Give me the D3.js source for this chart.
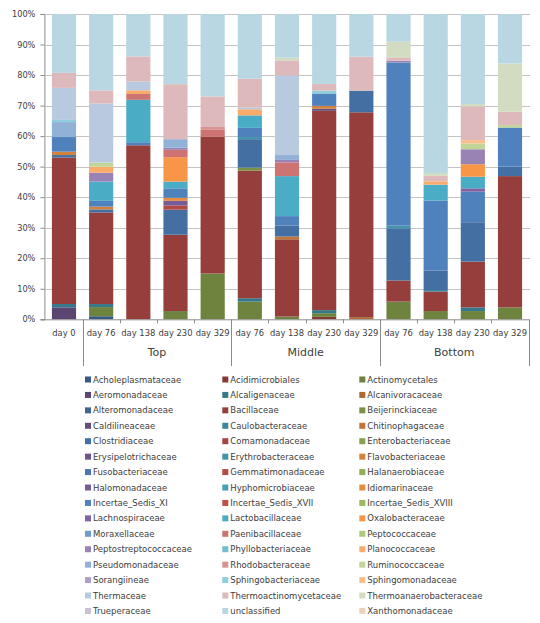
<!DOCTYPE html>
<html><head><meta charset="utf-8">
<script src="https://cdn.jsdelivr.net/npm/d3@7"></script>
<style>body{margin:0;background:#fff}svg{display:block}</style>
</head><body><svg id="c" width="540" height="623"></svg>
<script>
// ---------- data ----------
const categories = ["day 0","day 76","day 138","day 230","day 329","day 76","day 138","day 230","day 329","day 76","day 138","day 230","day 329"];
const categoryGroups = ["","Top","Top","Top","Top","Middle","Middle","Middle","Middle","Bottom","Bottom","Bottom","Bottom"];
const yTicks = [0,10,20,30,40,50,60,70,80,90,100];

const seriesNames = ["Acholeplasmataceae","Acidimicrobiales","Actinomycetales","Aeromonadaceae","Alcaligenaceae","Alcanivoracaceae",
"Alteromonadaceae","Bacillaceae","Beijerinckiaceae","Caldilineaceae","Caulobacteraceae","Chitinophagaceae",
"Clostridiaceae","Comamonadaceae","Enterobacteriaceae","Erysipelotrichaceae","Erythrobacteraceae","Flavobacteriaceae",
"Fusobacteriaceae","Gemmatimonadaceae","Halanaerobiaceae","Halomonadaceae","Hyphomicrobiaceae","Idiomarinaceae",
"Incertae_Sedis_XI","Incertae_Sedis_XVII","Incertae_Sedis_XVIII","Lachnospiraceae","Lactobacillaceae","Oxalobacteraceae",
"Moraxellaceae","Paenibacillaceae","Peptococcaceae","Peptostreptococcaceae","Phyllobacteriaceae","Planococcaceae",
"Pseudomonadaceae","Rhodobacteraceae","Ruminococcaceae","Sorangiineae","Sphingobacteriaceae","Sphingomonadaceae",
"Thermaceae","Thermoactinomycetaceae","Thermoanaerobacteraceae","Trueperaceae","unclassified","Xanthomonadaceae"];

// values (%) per category, in the order of `categories`
const acholeplasmataceae   = [0,1.0,0,0,0,0,0,0,0,0,0,0,0];
const acidimicrobiales     = [0,0,0,0,0,0,0,0.8,0,0,0,0,0];
const actinomycetales      = [0,3.0,0,2.7,15.0,5.8,0.9,1.2,0,5.8,2.7,2.7,3.9];
const aeromonadaceae       = [3.9,0,0,0,0,0,0,0,0,0,0,0,0];
const alcaligenaceae       = [1.1,1.0,0,0,0,1.1,0,1.0,0,0,0,1.2,0];
const alcanivoracaceae     = [0,0,0,0,0,0,0,0,0.7,0,0,0,0];
const bacillaceae          = [48.0,30.0,57.0,25.0,44.8,41.8,25.3,65.3,67.1,6.9,6.4,15.0,43.0];
const beijerinckiaceae     = [0,0,0,0,0,1.0,0,0,0,0,0,0,0];
const caldilineaceae       = [0,0,0,0,0,0,0,0.7,0,0,0,0,0];
const caulobacteraceae     = [0,0,0,0,0,0,0,0,0,0,0.5,0,0];
const chitinophagaceae     = [0,0,0,0,0,0,0.9,0,0,0,0,0,0];
const clostridiaceae       = [0.8,1.0,0,8.2,0,9.3,3.6,0,7.1,17.1,6.4,12.9,3.1];
const erythrobacteraceae   = [0,0,0,0,0,0.7,0,0,0,0.9,0,0,0];
const flavobacteriaceae    = [1.1,0.9,0,0,0,0,0,0.9,0,0,0,0,0];
const gemmatimonadaceae    = [0,0,0,1.4,0,0,0,0,0,0,0,0,0];
const halomonadaceae       = [0,0,0,1.5,0,0,0,0,0,0,0,0,0];
const idiomarinaceae       = [0,0,0,1.0,0,0,0,0,0,0,0,0,0];
const incertaeSedisXI      = [4.8,1.9,1.0,3.1,0,3.0,3.1,3.9,0,53.4,22.9,10.0,12.8];
const lachnospiraceae      = [0,0,0,0,0,0,0,0,0,0,0,1.1,0];
const lactobacillaceae     = [0,6.3,13.9,2.2,0,4.1,13.1,0,0,0,5.2,3.8,0];
const oxalobacteraceae     = [0,0,0,8.0,0,0,0,0,0,0,0,4.1,0];
const paenibacillaceae     = [0,0,1.9,2.4,2.4,0,4.5,0,0,0,0,0,0];
const peptostreptococcaceae= [0,2.9,0,0.7,0,0,0.8,0,0,0.6,0,4.9,0];
const planococcaceae       = [0,2.0,1.2,0,0,2.0,0,0,0,0,1.1,0,0];
const pseudomonadaceae     = [4.9,0,0,2.8,0,0,1.6,0,0,0,0,0,0];
const rhodobacteraceae     = [0,0,0,0,0.8,0,0,0,0,0,0,0,0];
const ruminococcaceae      = [0,1.3,0,0,0,0,0,0,0,0,0,1.9,0.8];
const sphingobacteriaceae  = [0.7,0,0,0,0,0,0,1.1,0,0,0,0,0];
const sphingomonadaceae    = [0,0,0,0,0,0,0,0,0,0,0,1.1,0];
const thermaceae           = [10.5,19.4,2.9,0,0,0.5,26.1,0,0,0,0,0,0];
const thermoactinomycetaceae=[4.9,4.3,8.2,18.0,10.0,9.5,4.9,2.2,11.1,1.1,1.8,11.0,4.4];
const thermoanaerobacteraceae=[0,0,0,0,0,0,0.9,0,0,5.1,0.9,0.8,15.8];
const unclassified         = [19.3,25.0,13.9,23.0,27.0,21.2,14.3,22.9,14.0,9.1,52.1,29.5,16.2];

const valuesByName = {
  Acholeplasmataceae: acholeplasmataceae, Acidimicrobiales: acidimicrobiales, Actinomycetales: actinomycetales,
  Aeromonadaceae: aeromonadaceae, Alcaligenaceae: alcaligenaceae, Alcanivoracaceae: alcanivoracaceae,
  Bacillaceae: bacillaceae, Beijerinckiaceae: beijerinckiaceae, Caldilineaceae: caldilineaceae,
  Caulobacteraceae: caulobacteraceae, Chitinophagaceae: chitinophagaceae, Clostridiaceae: clostridiaceae,
  Erythrobacteraceae: erythrobacteraceae, Flavobacteriaceae: flavobacteriaceae, Gemmatimonadaceae: gemmatimonadaceae,
  Halomonadaceae: halomonadaceae, Idiomarinaceae: idiomarinaceae, Incertae_Sedis_XI: incertaeSedisXI,
  Lachnospiraceae: lachnospiraceae, Lactobacillaceae: lactobacillaceae, Oxalobacteraceae: oxalobacteraceae,
  Paenibacillaceae: paenibacillaceae, Peptostreptococcaceae: peptostreptococcaceae, Planococcaceae: planococcaceae,
  Pseudomonadaceae: pseudomonadaceae, Rhodobacteraceae: rhodobacteraceae, Ruminococcaceae: ruminococcaceae,
  Sphingobacteriaceae: sphingobacteriaceae, Sphingomonadaceae: sphingomonadaceae, Thermaceae: thermaceae,
  Thermoactinomycetaceae: thermoactinomycetaceae, Thermoanaerobacteraceae: thermoanaerobacteraceae,
  unclassified: unclassified
};

// ---------- colours (Excel-like accent variants) ----------
const accents = ["#4F81BD","#C0504D","#9BBB59","#8064A2","#4BACC6","#F79646"];
const shadeSteps = [-0.3,-0.22,-0.14,-0.07,0,0.2,0.38,0.68];
function seriesColor(i){
  const c = d3.rgb(accents[i % 6]);
  const k = Math.floor(i / 6);
  const s = shadeSteps[k];
  if (s < 0) return d3.rgb(c.r*(1+s), c.g*(1+s), c.b*(1+s)).formatHex();
  return d3.interpolateRgb(c, k === 7 ? "#ebebf0" : "#ffffff")(s);
}
const color = d3.scaleOrdinal().domain(seriesNames).range(seriesNames.map((_, i) => seriesColor(i)));

// ---------- table ----------
const table = categories.map((c, j) => {
  const row = {idx: j};
  seriesNames.forEach(n => { row[n] = valuesByName[n] ? valuesByName[n][j] : 0; });
  return row;
});
const stacked = d3.stack().keys(seriesNames).offset(d3.stackOffsetExpand)(table);

// ---------- layout ----------
const svg = d3.select("#c");
const plotL = 45.4, plotR = 528.6, plotT = 14, plotB = 319.3;
const x = d3.scaleBand().domain(d3.range(categories.length)).range([plotL, plotR]).paddingInner(0.35).paddingOuter(0.175);
const y = d3.scaleLinear().domain([0, 1]).range([plotB, plotT]);
const step = x.step();
const textCol = "#404040";
const font = "'DejaVu Sans', Verdana, sans-serif";

// gridlines
svg.append("g").selectAll("line").data(yTicks.slice(1)).join("line")
  .attr("x1", plotL).attr("x2", plotR + 1.5)
  .attr("y1", d => Math.round(y(d/100)) + 0.5).attr("y2", d => Math.round(y(d/100)) + 0.5)
  .attr("stroke", "#c4c4c4").attr("stroke-width", 1);

// bars
svg.append("g").selectAll("g").data(stacked).join("g")
  .attr("fill", d => color(d.key))
  .selectAll("rect").data(d => d).join("rect")
  .attr("x", d => x(d.data.idx))
  .attr("width", x.bandwidth())
  .attr("y", d => y(d[1]))
  .attr("height", d => Math.max(0, y(d[0]) - y(d[1])));

// y axis
const yAxis = d3.axisLeft(y).tickValues(yTicks.map(t => t/100)).tickFormat(d3.format(".0%")).tickSize(4).tickPadding(5);
const gy = svg.append("g").attr("transform", `translate(${plotL - 1},0)`).call(yAxis);
gy.select(".domain").attr("stroke", "#8c8c8c");
gy.selectAll(".tick line").attr("stroke", "#8c8c8c");
gy.selectAll("text").attr("font-family", font).attr("font-size", "8.2px").attr("fill", textCol);

// x axis line
svg.append("line").attr("x1", plotL - 4).attr("x2", plotR + 1).attr("y1", plotB + 0.5).attr("y2", plotB + 0.5).attr("stroke", "#8c8c8c");

// category boundaries: short ticks inside groups, long separators between groups
const boundaries = d3.range(1, categories.length + 1);
svg.append("g").selectAll("line").data(boundaries).join("line")
  .attr("x1", i => Math.round(plotL + i*step) + 0.5).attr("x2", i => Math.round(plotL + i*step) + 0.5)
  .attr("y1", plotB)
  .attr("y2", i => (i === categories.length || categoryGroups[i] !== categoryGroups[i-1]) ? 366 : plotB + 4)
  .attr("stroke", "#8c8c8c");

// category labels
svg.append("g").selectAll("text").data(categories).join("text")
  .attr("x", (d, i) => x(i) + x.bandwidth()/2).attr("y", 335.5)
  .attr("text-anchor", "middle").attr("font-family", font).attr("font-size", "8.4px").attr("fill", textCol)
  .text(d => d);

// group labels
const groupNames = Array.from(new Set(categoryGroups.filter(g => g)));
svg.append("g").selectAll("text").data(groupNames).join("text")
  .attr("x", g => {
    const idx = categoryGroups.map((c, i) => c === g ? i : -1).filter(i => i >= 0);
    return (x(idx[0]) + x(idx[idx.length-1]) + x.bandwidth()) / 2;
  })
  .attr("y", 356).attr("text-anchor", "middle").attr("font-family", font).attr("font-size", "11px").attr("fill", textCol)
  .text(g => g);

// legend
const colX = [85, 222.3, 359.3];
const legend = svg.append("g").selectAll("g").data(seriesNames).join("g")
  .attr("transform", (d, i) => `translate(${colX[i % 3]},${379.5 + Math.floor(i / 3) * 15.43})`);
legend.append("rect").attr("x", 0).attr("y", -3).attr("width", 6).attr("height", 6).attr("fill", d => color(d));
legend.append("text").attr("x", 8).attr("y", 3).attr("font-family", font).attr("font-size", "8.5px").attr("fill", textCol).text(d => d);
</script>
</body></html>
